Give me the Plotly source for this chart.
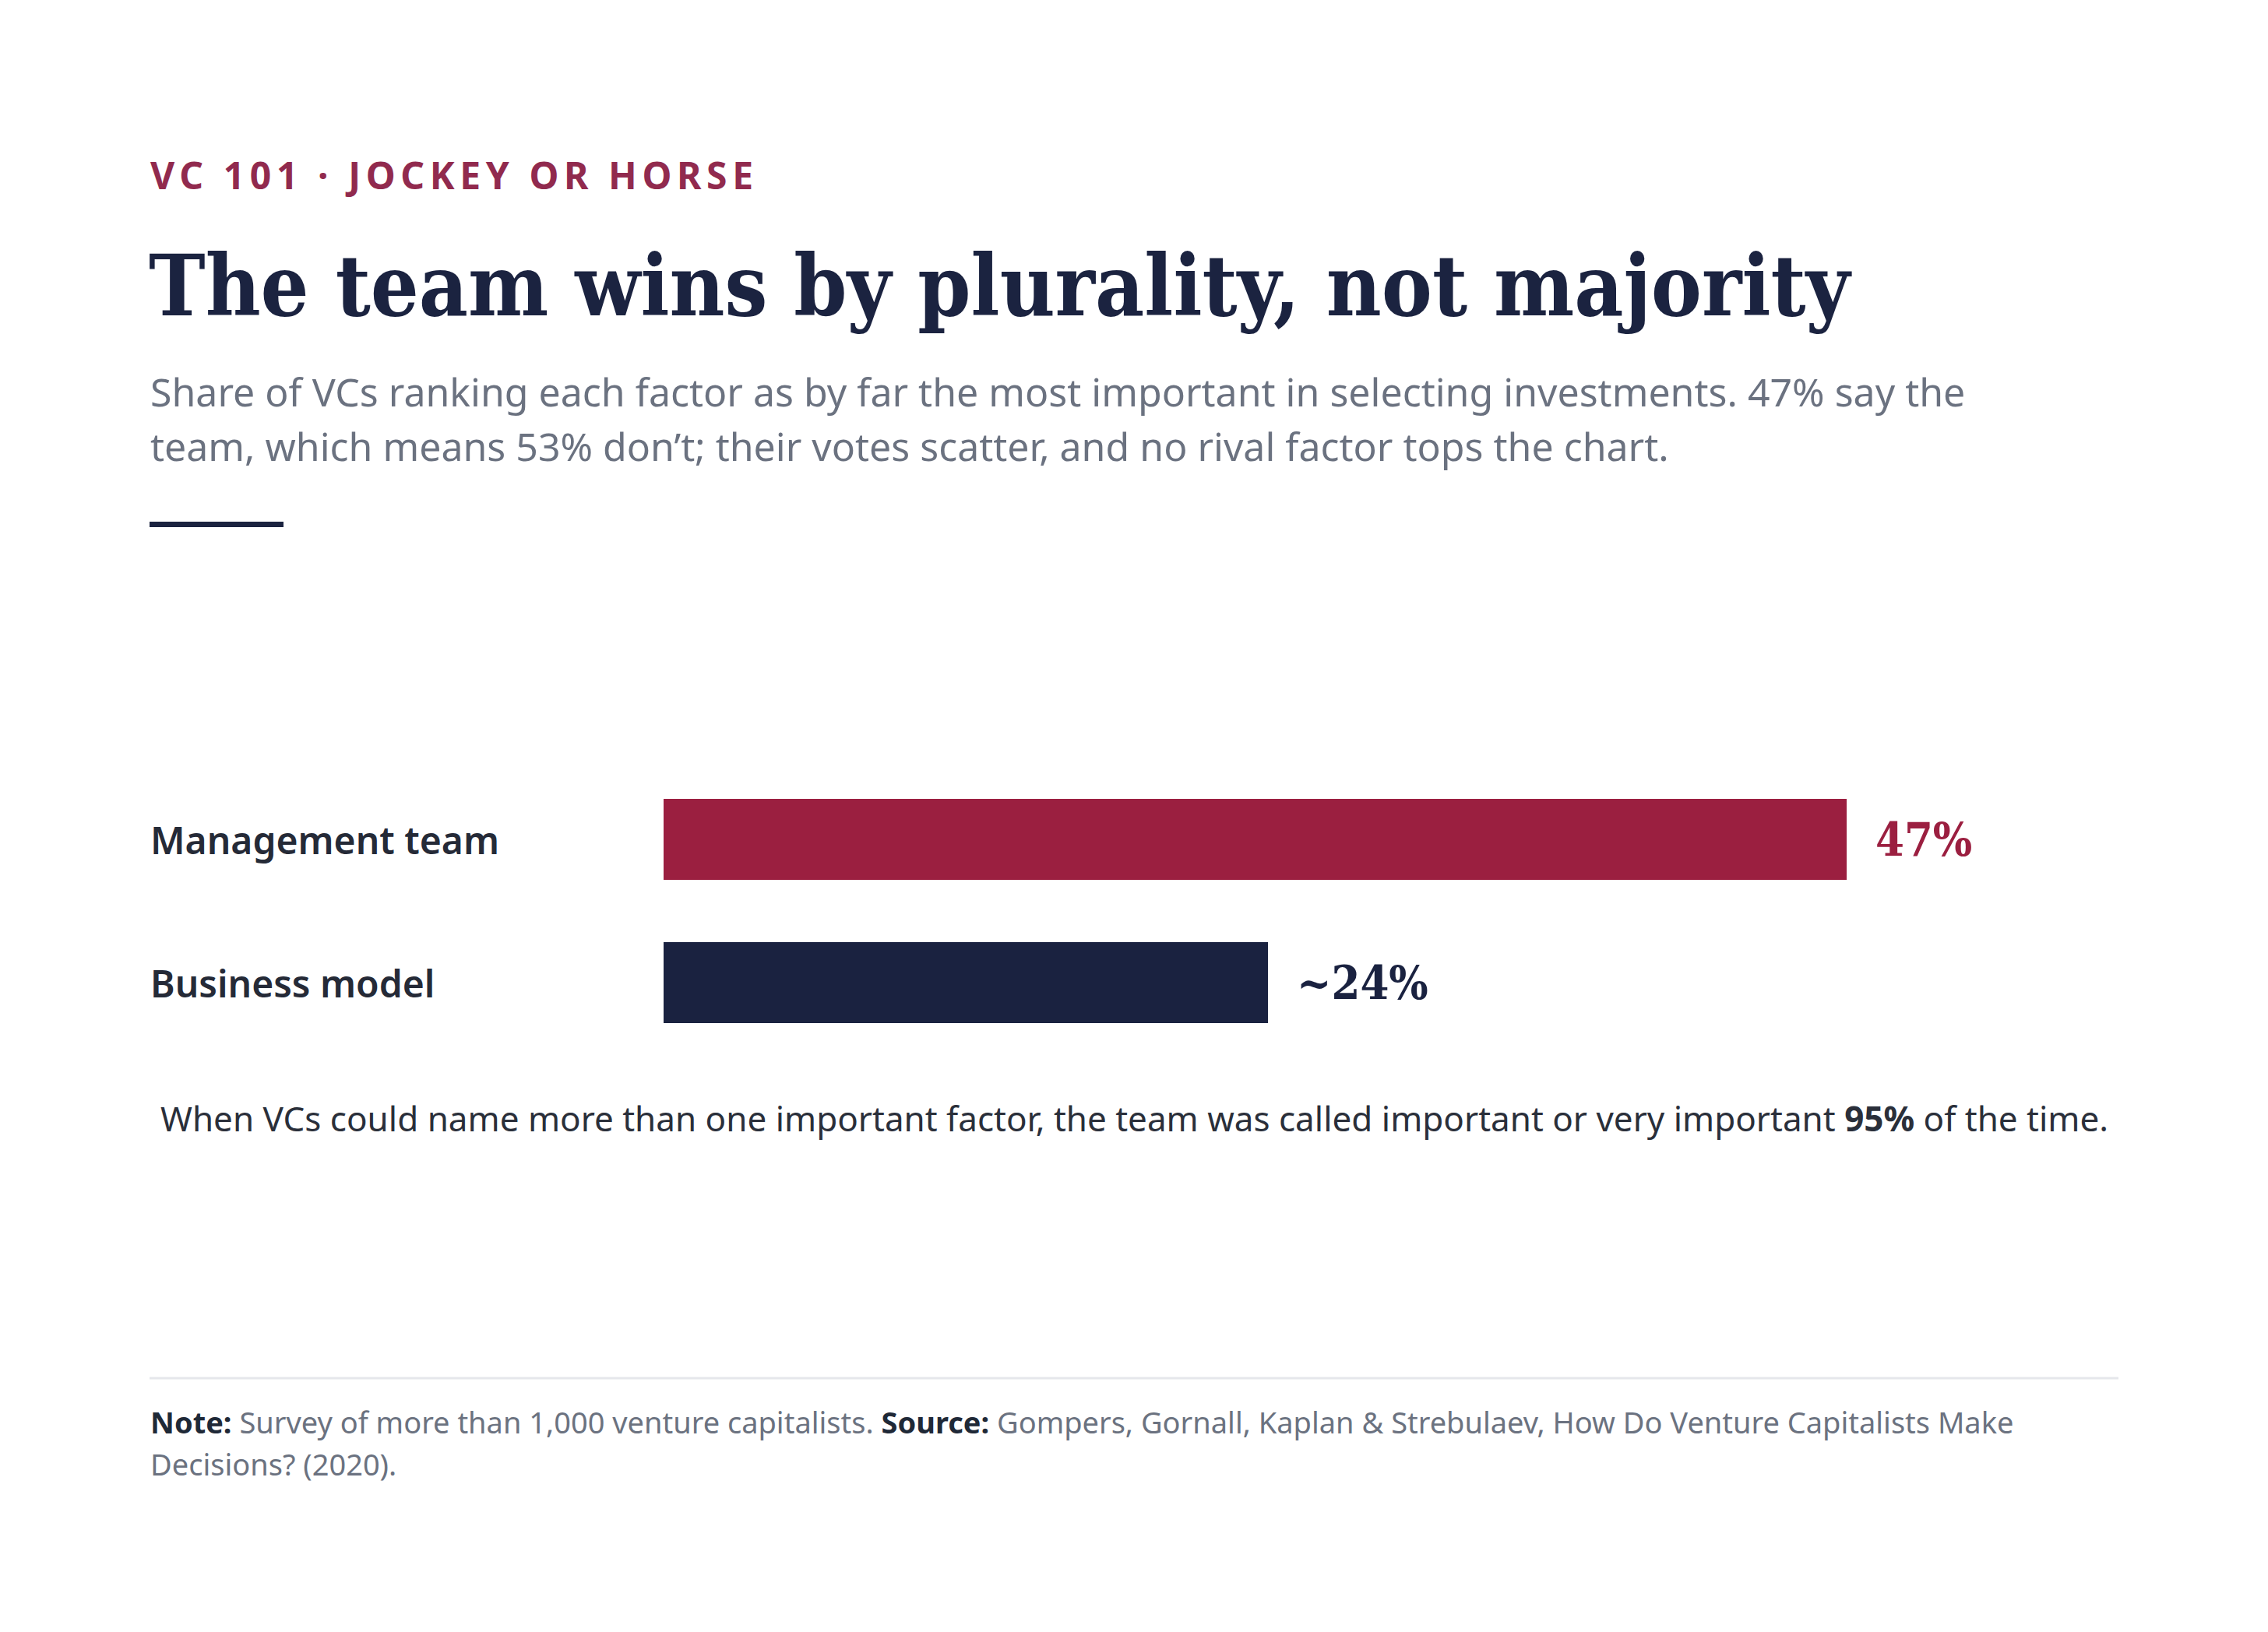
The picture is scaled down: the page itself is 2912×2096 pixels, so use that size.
import plotly.graph_objects as go

# page body has an 8px margin, so the figure is drawn a bit smaller and shifted
OFF = 8
W, H = 2912 - 2 * OFF, 2096 - 2 * OFF

# data
factors = ["Management team", "Business model"]
shares = [47, 24]
share_labels = ["47%", "~24%"]
bar_colors = ["#9b1f40", "#1a2240"]

kicker = "VC 101 · JOCKEY OR HORSE"
title = "The team wins by plurality, not majority"
subtitle_lines = [
    "Share of VCs ranking each factor as by far the most important in selecting investments. 47% say the",
    "team, which means 53% don\u2019t; their votes scatter, and no rival factor tops the chart.",
]
callout = "When VCs could name more than one important factor, the team was called important or very important <b>95%</b> of the time."
footer_lines = [
    "<b style='color:#1f2937'>Note:</b> Survey of more than 1,000 venture capitalists. "
    "<b style='color:#1f2937'>Source:</b> Gompers, Gornall, Kaplan & Strebulaev, How Do Venture Capitalists Make",
    "Decisions? (2020).",
]

SANS = "Noto Sans, Open Sans, sans-serif"
SERIF = "DejaVu Serif Condensed, DejaVu Serif, serif"


def px(x):
    return (x - OFF) / W


def py(y):
    return 1 - (y - OFF) / H


fig = go.Figure()
fig.add_trace(go.Bar(
    x=shares, y=factors, orientation="h",
    marker=dict(color=bar_colors, line=dict(width=0)),
    width=0.565, hoverinfo="skip", showlegend=False,
))

anns = []


def note(x, y, text, size, color, family=SANS, weight=None):
    f = dict(family=family, size=size, color=color)
    if weight:
        f["weight"] = weight
    anns.append(dict(x=px(x), y=py(y), xref="paper", yref="paper", text=text,
                     showarrow=False, xanchor="left", yanchor="middle", font=f))


note(191, 225, "<span style='letter-spacing:6.6px'>" + kicker + "</span>", 48, "#912a4e", weight=700)
note(189, 367, title, 108.5, "#1b2340", family=SERIF, weight=700)
note(191, 503, subtitle_lines[0], 50, "#6b7280")
note(191, 573, subtitle_lines[1], 50, "#6b7280")
note(204, 1436, callout, 44, "#2a2f3a")
note(191, 1826, footer_lines[0], 38, "#6b7280")
note(191, 1880, footer_lines[1], 38, "#6b7280")

# category labels and value labels
for f, v, lab, c in zip(factors, shares, share_labels, bar_colors):
    anns.append(dict(x=px(191), y=f, xref="paper", yref="y", text=f, showarrow=False,
                     xanchor="left", yanchor="middle",
                     font=dict(family=SANS, size=48, color="#252a37", weight=600)))
    anns.append(dict(x=v, y=f, xref="x", yref="y", text=lab, showarrow=False,
                     xanchor="left", yanchor="middle", xshift=35,
                     font=dict(family=SERIF, size=59, color=c, weight=700)))

fig.update_layout(
    width=W, height=H,
    margin=dict(l=0, r=0, t=0, b=0),
    paper_bgcolor="white", plot_bgcolor="white",
    annotations=anns,
    bargap=0,
    xaxis=dict(domain=[px(852), px(2720)], range=[0, 57.8], visible=False, fixedrange=True),
    yaxis=dict(domain=[py(1354), py(986)], range=[1.5, -0.5], visible=False, fixedrange=True),
    shapes=[
        dict(type="rect", xref="paper", yref="paper", x0=px(192), x1=px(364), y0=py(670), y1=py(677),
             fillcolor="#1b2340", line=dict(width=0)),
        dict(type="line", xref="paper", yref="paper", x0=px(192), x1=px(2720), y0=py(1770), y1=py(1770),
             line=dict(color="#e5e7eb", width=3)),
    ],
)

fig.write_html("out.html")
